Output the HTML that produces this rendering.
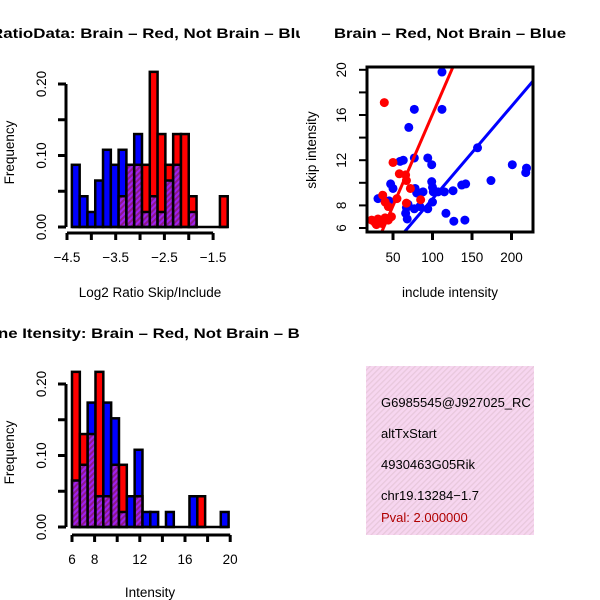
<!DOCTYPE html>
<html><head><meta charset="utf-8"><style>
html,body{margin:0;padding:0;background:#fff;}
svg{display:block;font-family:"Liberation Sans",sans-serif;}
</style></head><body>
<svg id="c" width="600" height="600" viewBox="0 0 600 600" xmlns="http://www.w3.org/2000/svg">
<defs>
<pattern id="hatch" width="4" height="4" patternUnits="userSpaceOnUse" patternTransform="rotate(45)">
<rect width="4" height="4" fill="#a020f0"/><rect width="2" height="4" fill="#8b1a8b"/></pattern>
<pattern id="pink" width="4" height="4" patternUnits="userSpaceOnUse" patternTransform="rotate(45)">
<rect width="4" height="4" fill="#f7d6f0"/><rect width="1.3" height="4" fill="#e8c8dc"/></pattern>
<clipPath id="clipL"><rect x="0" y="0" width="300" height="600"/></clipPath>
<clipPath id="clipS"><rect x="367" y="67" width="166" height="165"/></clipPath>
<clipPath id="clipT"><rect x="366" y="366" width="168" height="169"/></clipPath>
</defs>
<g clip-path="url(#clipL)">
<text x="-9" y="38" font-size="14" font-weight="bold" textLength="324" lengthAdjust="spacingAndGlyphs">RatioData: Brain – Red, Not Brain – Blue</text>
<text x="-2" y="338" font-size="14" font-weight="bold" textLength="326" lengthAdjust="spacingAndGlyphs">ne Itensity: Brain – Red, Not Brain – Blue</text>
</g>
<text x="334" y="38" font-size="14" font-weight="bold" textLength="232" lengthAdjust="spacingAndGlyphs">Brain – Red, Not Brain – Blue</text>
<g id="h1"></g><g id="h2"></g><g id="sc"></g>
<rect x="366" y="366" width="168" height="169" fill="url(#pink)"/>
<g clip-path="url(#clipT)" font-size="13">
<text x="381" y="407">G6985545@J927025_RC</text>
<text x="381" y="438">altTxStart</text>
<text x="381" y="469">4930463G05Rik</text>
<text x="381" y="500">chr19.13284−1.7</text>
<text x="381" y="522" fill="#b00000">Pval: 2.000000</text>
</g>
</svg>
<script>
// Histogram 1: Log2 ratio
const h1Start = -4.4, h1Width = 0.16;
const h1Red  = [0,0,0,0,0,0,0.043,0.087,0.087,0.087,0.217,0.130,0.087,0.130,0.130,0.043,0,0,0,0.043];
const h1Blue = [0.087,0.043,0.021,0.065,0.108,0.087,0.108,0.087,0.130,0.021,0.043,0.021,0.065,0.087,0,0.021,0,0,0,0];
const h1XTicks = [-4.5,-3.5,-2.5,-1.5];
const h1YTicks = ["0.00","0.10","0.20"];
// Histogram 2: Intensity
const h2Start = 6, h2Width = 0.693;
const h2Red  = [0.217,0.130,0.130,0.217,0.043,0.087,0.087,0,0.043,0,0,0,0,0,0,0,0.043,0,0,0];
const h2Blue = [0.065,0.087,0.174,0.043,0.174,0.152,0.021,0.043,0.108,0.021,0.021,0,0.021,0,0,0.043,0,0,0,0.021];
const h2XTicks = [6,8,12,16,20];
const h2YTicks = ["0.00","0.10","0.20"];
// Scatter
const blueX = [112,77,112,70,94,77,99,59,63,157,201,219,218,174,47,50,99,100,137,142,126,78,80,88,101,107,115,31,45,69,67,66,68,77,94,84,100,117,127,141];
const blueY = [19.8,16.5,16.5,14.9,12.2,12.2,11.6,11.9,12.0,13.1,11.6,11.3,10.9,10.2,9.9,9.5,10.1,9.6,9.8,9.9,9.3,9.5,9.1,9.2,9.2,9.2,9.2,8.6,8.4,8.1,7.8,7.3,6.8,7.7,7.7,7.9,8.3,7.3,6.6,6.7];
const redX = [39,50,58,66,67,72,67,85,37,40,44,55,48,23,27,31,36,40,44,29,33];
const redY = [17.1,11.8,10.8,10.7,10.2,9.5,8.2,8.5,8.9,8.3,7.9,8.6,7.0,6.7,6.5,6.8,6.4,6.9,6.7,6.3,6.6];
const redFit = [-0.14, 0.162];
const blueFit = [0.37, 0.082];
const scXTicks = [50,100,150,200];
const scYTicks = [6,8,12,16,20];

const NS="http://www.w3.org/2000/svg";
const FS=13.5;
function mk(parent,tag,attrs){const e=document.createElementNS(NS,tag);for(const k in attrs)e.setAttribute(k,attrs[k]);parent.appendChild(e);return e;}

function hist(g,start,w,red,blue,xTicks,yTicks,cfg){
  const xs=v=>cfg.x0+(v-cfg.xa)*cfg.kx, ys=v=>cfg.y0-v*cfg.ky;
  for(let i=0;i<red.length;i++){
    const a=xs(start+i*w), b=xs(start+(i+1)*w);
    const hi=Math.max(red[i],blue[i]), lo=Math.min(red[i],blue[i]);
    if(hi<=0) continue;
    const col=red[i]>=blue[i]?"#ff0000":"#0000ff";
    const r=mk(g,"rect",{x:a,y:ys(hi),width:b-a,height:ys(0)-ys(hi),fill:col,stroke:"#000","stroke-width":2.5});
    
    
    if(lo>0){const p=mk(g,"rect",{x:a,y:ys(lo),width:b-a,height:ys(0)-ys(lo),fill:"url(#hatch)",stroke:"#000","stroke-width":2.5});
      
      }
  }
  mk(g,"line",{x1:xs(start),x2:xs(start+red.length*w),y1:ys(0),y2:ys(0),stroke:"#000","stroke-width":2.5});
  const ya=mk(g,"g",{});  
  mk(ya,"line",{x1:cfg.ax,x2:cfg.ax,y1:ys(0),y2:ys(0.2),stroke:"#000","stroke-width":3});
  for(let t=0;t<=4;t++){const y=ys(t*0.05);mk(ya,"line",{x1:cfg.ax-8,x2:cfg.ax,y1:y,y2:y,stroke:"#000","stroke-width":3});}
  yTicks.forEach(s=>{const y=ys(parseFloat(s));const t=mk(ya,"text",{x:0,y:0,"font-size":FS,"text-anchor":"middle",transform:`translate(46,${y}) rotate(-90)`});t.textContent=s;});
  const xa=mk(g,"g",{});  
  mk(xa,"line",{x1:xs(cfg.xmin),x2:xs(cfg.xmax),y1:cfg.ay,y2:cfg.ay,stroke:"#000","stroke-width":3});
  for(let v=cfg.xmin;v<=cfg.xmax+1e-9;v+=cfg.minor){mk(xa,"line",{x1:xs(v),x2:xs(v),y1:cfg.ay,y2:cfg.ay+7,stroke:"#000","stroke-width":3});}
  xTicks.forEach(v=>{const t=mk(xa,"text",{x:xs(v),y:cfg.ay+29,"font-size":FS,"text-anchor":"middle"});t.textContent=String(v).replace("-","−");});
  const xl=mk(g,"text",{x:150,y:cfg.xlab,"font-size":FS,"text-anchor":"middle"});xl.textContent=cfg.xlabel;
   
  const yl=mk(g,"text",{x:0,y:0,"font-size":FS,"text-anchor":"middle",transform:`translate(14,${(ys(0)+ys(0.2))/2-3}) rotate(-90)`});yl.textContent="Frequency";
   
}
hist(document.getElementById("h1"),h1Start,h1Width,h1Red,h1Blue,h1XTicks,h1YTicks,
 {x0:67,xa:-4.5,kx:48.7,y0:227,ky:715,ax:66,ay:233,xmin:-4.5,xmax:-1.5,minor:0.5,xlab:297,xlabel:"Log2 Ratio Skip/Include"});
hist(document.getElementById("h2"),h2Start,h2Width,h2Red,h2Blue,h2XTicks,h2YTicks,
 {x0:72,xa:6,kx:11.3,y0:527,ky:715,ax:66,ay:535,xmin:6,xmax:20,minor:2,xlab:597,xlabel:"Intensity"});

(function(){
  const g=document.getElementById("sc");
  const xs=v=>353.5+v*0.79, ys=v=>228-(v-6)*11.3;
  const pts=mk(g,"g",{"clip-path":"url(#clipS)"});
  blueX.forEach((x,i)=>{const c=mk(pts,"circle",{cx:xs(x),cy:ys(blueY[i]),r:4.5,fill:"#0000ff"});
     });
  redX.forEach((x,i)=>{const c=mk(pts,"circle",{cx:xs(x),cy:ys(redY[i]),r:4.5,fill:"#ff0000"});
     });
  [[redFit,"#ff0000","red-fit-line"],[blueFit,"#0000ff","blue-fit-line"]].forEach(([f,c,n])=>{
    const l=mk(pts,"line",{x1:xs(0),y1:ys(f[0]),x2:xs(260),y2:ys(f[0]+f[1]*260),stroke:c,"stroke-width":3});
     });
  mk(g,"rect",{x:367,y:67,width:166,height:165,fill:"none",stroke:"#000","stroke-width":3});
  scXTicks.forEach(v=>{mk(g,"line",{x1:xs(v),x2:xs(v),y1:232,y2:240,stroke:"#000","stroke-width":3});
    const t=mk(g,"text",{x:xs(v),y:262,"font-size":FS,"text-anchor":"middle"});t.textContent=v;});
  for(let v=6;v<=20;v+=2){mk(g,"line",{x1:359,x2:367,y1:ys(v),y2:ys(v),stroke:"#000","stroke-width":2});}
  scYTicks.forEach(v=>{const t=mk(g,"text",{x:0,y:0,"font-size":FS,"text-anchor":"middle",transform:`translate(346,${ys(v)}) rotate(-90)`});t.textContent=v;});
  const xl=mk(g,"text",{x:450,y:297,"font-size":FS,"text-anchor":"middle"});xl.textContent="include intensity";
   
  const yl=mk(g,"text",{x:0,y:0,"font-size":FS,"text-anchor":"middle",transform:"translate(316,150) rotate(-90)"});yl.textContent="skip intensity";
   
})();
</script>
</body></html>
